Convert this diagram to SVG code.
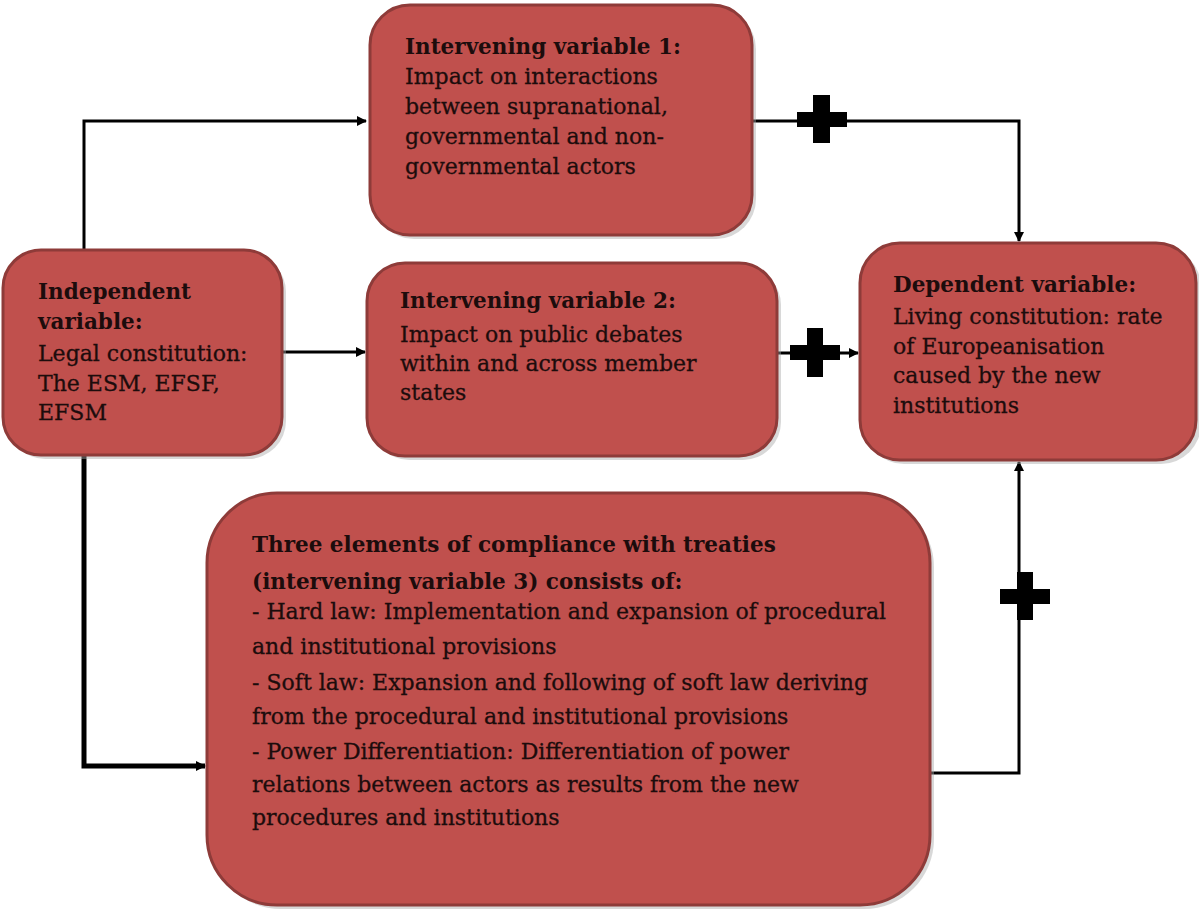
<svg xmlns="http://www.w3.org/2000/svg" width="1199" height="913" viewBox="0 0 1199 913">
<style>
.box{fill:#c0504d;stroke:#8e3b39;stroke-width:3}
.sh{fill:#a9a9a9;opacity:0.45}
.t{font-family:"DejaVu Serif","Liberation Serif",serif;font-size:22px;fill:#1c0c0c;stroke:#1c0c0c;stroke-width:0.3}
.b{font-weight:bold;font-size:21.5px;stroke-width:0}
.ln{fill:none;stroke:#000;stroke-width:3}
.thick{fill:none;stroke:#000;stroke-width:5}
</style>
<defs>
<marker id="ar" markerWidth="10" markerHeight="10" refX="9" refY="5" orient="auto" markerUnits="userSpaceOnUse">
<path d="M0,0 L10,5 L0,10 Z" fill="#000"/>
</marker>
</defs>
<g id="connectors">
<polyline class="ln" points="84,250 84,121 366,121" marker-end="url(#ar)"/>
<polyline class="ln" points="752,121 1019,121 1019,241" marker-end="url(#ar)"/>
<line class="ln" x1="282" y1="352" x2="365" y2="352" marker-end="url(#ar)"/>
<line class="ln" x1="777" y1="353" x2="858" y2="353" marker-end="url(#ar)"/>
<polyline class="thick" points="84,455 84,766 205,766" marker-end="url(#ar)"/>
<polyline class="ln" points="930,773 1019,773 1019,462" marker-end="url(#ar)"/>
<g fill="#000">
<rect x="797" y="112" width="50" height="15"/><rect x="813" y="95" width="17" height="48"/>
<rect x="790" y="345" width="50" height="15"/><rect x="807" y="328" width="16" height="49"/>
<rect x="1000" y="589" width="50" height="15"/><rect x="1017" y="572" width="16" height="48"/>
</g>
</g>
<g id="iv1">
<rect class="sh" x="374" y="9" width="382" height="230" rx="40"/>
<rect class="box" x="370" y="5" width="382" height="230" rx="40"/>
<text class="t b" x="405" y="54">Intervening variable 1:</text>
<text class="t" x="405" y="84">Impact on interactions</text>
<text class="t" x="405" y="114">between supranational,</text>
<text class="t" x="405" y="144">governmental and non-</text>
<text class="t" x="405" y="174">governmental actors</text>
</g>
<g id="indep">
<rect class="sh" x="7" y="254" width="279" height="205" rx="38"/>
<rect class="box" x="3" y="250" width="279" height="205" rx="38"/>
<text class="t b" x="38" y="299">Independent</text>
<text class="t b" x="38" y="329">variable:</text>
<text class="t" x="38" y="361">Legal constitution:</text>
<text class="t" x="38" y="391">The ESM, EFSF,</text>
<text class="t" x="38" y="420">EFSM</text>
</g>
<g id="iv2">
<rect class="sh" x="371" y="267" width="410" height="193" rx="38"/>
<rect class="box" x="367" y="263" width="410" height="193" rx="38"/>
<text class="t b" x="400" y="308">Intervening variable 2:</text>
<text class="t" x="400" y="342">Impact on public debates</text>
<text class="t" x="400" y="371">within and across member</text>
<text class="t" x="400" y="400">states</text>
</g>
<g id="dep">
<rect class="sh" x="864" y="247" width="337" height="217" rx="40"/>
<rect class="box" x="860" y="243" width="336" height="217" rx="40"/>
<text class="t b" x="893" y="292">Dependent variable:</text>
<text class="t" x="893" y="324">Living constitution: rate</text>
<text class="t" x="893" y="354">of Europeanisation</text>
<text class="t" x="893" y="383">caused by the new</text>
<text class="t" x="893" y="413">institutions</text>
</g>
<g id="iv3">
<rect class="sh" x="211" y="497" width="723" height="412" rx="70"/>
<rect class="box" x="207" y="493" width="723" height="412" rx="70"/>
<text class="t b" x="252" y="552">Three elements of compliance with treaties</text>
<text class="t b" x="252" y="589">(intervening variable 3) consists  of:</text>
<text class="t" x="252" y="619">- Hard law: Implementation and expansion of procedural</text>
<text class="t" x="252" y="654">and institutional provisions</text>
<text class="t" x="252" y="690">- Soft law: Expansion and following of soft law deriving</text>
<text class="t" x="252" y="724">from the procedural and institutional provisions</text>
<text class="t" x="252" y="759">- Power Differentiation: Differentiation of power</text>
<text class="t" x="252" y="792">relations between actors as results from the new</text>
<text class="t" x="252" y="825">procedures and institutions</text>
</g>
</svg>
